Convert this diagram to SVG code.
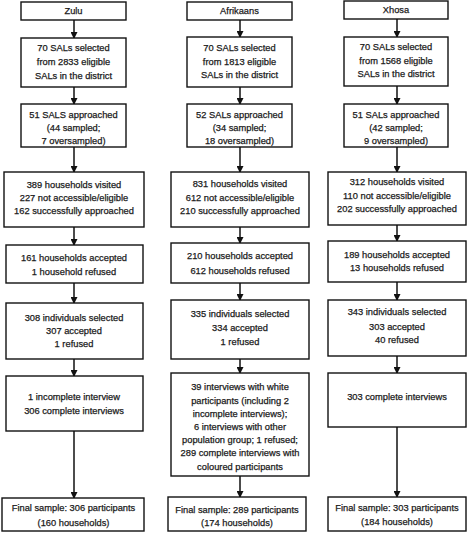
<svg xmlns="http://www.w3.org/2000/svg" width="473" height="533" viewBox="0 0 473 533">
<style>
.box{fill:#fff;stroke:#111;stroke-width:1.4}
text{font-family:"Liberation Sans",Arial,sans-serif;font-size:9.3px;fill:#1a1a1a;stroke:#1a1a1a;stroke-width:0.25;text-anchor:middle}
.con{stroke:#111;stroke-width:1.5;fill:none;marker-end:url(#ah)}
</style>
<defs>
<marker id="ah" markerUnits="userSpaceOnUse" markerWidth="7" markerHeight="7" refX="6" refY="3.5" orient="auto">
<path d="M0,0 L7,3.5 L0,7 z" fill="#111"/>
</marker>
</defs>
<rect width="473" height="533" fill="#fff"/>
<g id="connectors">
<line class="con" x1="74" y1="20" x2="74" y2="38"/>
<line class="con" x1="74" y1="87" x2="74" y2="104"/>
<line class="con" x1="74" y1="147" x2="74" y2="172"/>
<line class="con" x1="74" y1="227" x2="74" y2="245"/>
<line class="con" x1="74" y1="283" x2="74" y2="303"/>
<line class="con" x1="74" y1="359" x2="74" y2="376"/>
<line class="con" x1="74" y1="431" x2="74" y2="498"/>
<line class="con" x1="240" y1="20" x2="240" y2="37"/>
<line class="con" x1="240" y1="87" x2="240" y2="104"/>
<line class="con" x1="240" y1="147" x2="240" y2="172"/>
<line class="con" x1="240" y1="227" x2="240" y2="243"/>
<line class="con" x1="240" y1="283" x2="240" y2="300"/>
<line class="con" x1="240" y1="359" x2="240" y2="373"/>
<line class="con" x1="240" y1="476" x2="240" y2="497"/>
<line class="con" x1="397" y1="19" x2="397" y2="37"/>
<line class="con" x1="397" y1="86" x2="397" y2="104"/>
<line class="con" x1="397" y1="147" x2="397" y2="172"/>
<line class="con" x1="397" y1="225" x2="397" y2="241"/>
<line class="con" x1="397" y1="282" x2="397" y2="300"/>
<line class="con" x1="397" y1="356" x2="397" y2="373"/>
<line class="con" x1="397" y1="427" x2="397" y2="497"/>
</g>
<g id="zulu-header"><rect class="box" x="21" y="2" width="105" height="18"/><text x="73.5" y="14.3">Zulu</text></g>
<g id="zulu-sals"><rect class="box" x="21" y="38" width="105" height="49"/><text x="73.5" y="51.3">70 SALs selected</text><text x="73.5" y="65.3">from 2833 eligible</text><text x="73.5" y="79.3">SALs in the district</text></g>
<g id="zulu-approached"><rect class="box" x="21" y="104" width="105" height="43"/><text x="73.5" y="118.3">51 SALS approached</text><text x="73.5" y="131.3">(44 sampled;</text><text x="73.5" y="144.3">7 oversampled)</text></g>
<g id="zulu-households"><rect class="box" x="4" y="172" width="140" height="55"/><text x="74" y="188.3">389 households visited</text><text x="74" y="201.3">227 not accessible/eligible</text><text x="74" y="214.3">162 successfully approached</text></g>
<g id="zulu-accepted"><rect class="box" x="6" y="245" width="137" height="38"/><text x="74" y="261.3">161 households accepted</text><text x="74" y="275.3">1 household refused</text></g>
<g id="zulu-individuals"><rect class="box" x="6" y="303" width="137" height="56"/><text x="74" y="321.3">308 individuals selected</text><text x="74" y="334.3">307 accepted</text><text x="74" y="347.3">1 refused</text></g>
<g id="zulu-interviews"><rect class="box" x="6" y="376" width="137" height="55"/><text x="74" y="400.3">1 incomplete interview</text><text x="74" y="414.3">306 complete interviews</text></g>
<g id="zulu-final"><rect class="box" x="2" y="498" width="142" height="33"/><text x="73.5" y="511.3">Final sample: 306 participants</text><text x="73.5" y="526.3">(160 households)</text></g>

<g id="afr-header"><rect class="box" x="187" y="2" width="105" height="18"/><text x="239.5" y="14.3">Afrikaans</text></g>
<g id="afr-sals"><rect class="box" x="187" y="37" width="105" height="50"/><text x="239.5" y="51.3">70 SALs selected</text><text x="239.5" y="65.3">from 1813 eligible</text><text x="239.5" y="78.3">SALs in the district</text></g>
<g id="afr-approached"><rect class="box" x="187" y="104" width="105" height="43"/><text x="239.5" y="118.3">52 SALs approached</text><text x="239.5" y="131.3">(34 sampled;</text><text x="239.5" y="144.3">18 oversampled)</text></g>
<g id="afr-households"><rect class="box" x="171" y="172" width="138" height="55"/><text x="240" y="187.3">831 households visited</text><text x="240" y="201.3">612 not accessible/eligible</text><text x="240" y="214.3">210 successfully approached</text></g>
<g id="afr-accepted"><rect class="box" x="171" y="243" width="138" height="40"/><text x="240" y="259.3">210 households accepted</text><text x="240" y="274.3">612 households refused</text></g>
<g id="afr-individuals"><rect class="box" x="171" y="300" width="138" height="59"/><text x="240" y="317.3">335 individuals selected</text><text x="240" y="331.3">334 accepted</text><text x="240" y="345.3">1 refused</text></g>
<g id="afr-interviews"><rect class="box" x="171" y="373" width="138" height="103"/><text x="240" y="390.3">39 interviews with white</text><text x="240" y="403.5">participants (including 2</text><text x="240" y="416.7">incomplete interviews);</text><text x="240" y="429.9">6 interviews with other</text><text x="240" y="443.1">population group; 1 refused;</text><text x="240" y="456.3">289 complete interviews with</text><text x="240" y="469.5">coloured participants</text></g>
<g id="afr-final"><rect class="box" x="168" y="497" width="138" height="34"/><text x="237" y="513.3">Final sample: 289 participants</text><text x="237" y="526.3">(174 households)</text></g>

<g id="xhosa-header"><rect class="box" x="344" y="1" width="104" height="18"/><text x="396" y="13.3">Xhosa</text></g>
<g id="xhosa-sals"><rect class="box" x="344" y="37" width="104" height="49"/><text x="396" y="50.3">70 SALs selected</text><text x="396" y="64.3">from 1568 eligible</text><text x="396" y="77.3">SALs in the district</text></g>
<g id="xhosa-approached"><rect class="box" x="344" y="104" width="104" height="43"/><text x="396" y="118.3">51 SALs approached</text><text x="396" y="131.3">(42 sampled;</text><text x="396" y="144.3">9 oversampled)</text></g>
<g id="xhosa-households"><rect class="box" x="328" y="172" width="138" height="53"/><text x="397" y="185.3">312 households visited</text><text x="397" y="199.3">110 not accessible/eligible</text><text x="397" y="212.3">202 successfully approached</text></g>
<g id="xhosa-accepted"><rect class="box" x="328" y="241" width="138" height="41"/><text x="397" y="258.3">189 households accepted</text><text x="397" y="271.3">13 households refused</text></g>
<g id="xhosa-individuals"><rect class="box" x="328" y="300" width="138" height="56"/><text x="397" y="315.3">343 individuals selected</text><text x="397" y="330.3">303 accepted</text><text x="397" y="343.3">40 refused</text></g>
<g id="xhosa-interviews"><rect class="box" x="328" y="373" width="138" height="54"/><text x="397" y="400.3">303 complete interviews</text></g>
<g id="xhosa-final"><rect class="box" x="328" y="497" width="138" height="34"/><text x="397" y="511.3">Final sample: 303 participants</text><text x="397" y="525.3">(184 households)</text></g>
</svg>
